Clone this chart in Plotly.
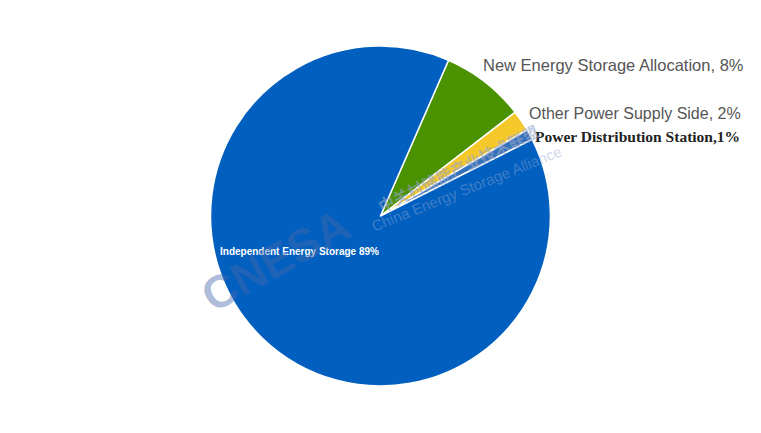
import plotly.graph_objects as go

# slice data, in drawing order (clockwise from the green slice)
labels = ["New Energy Storage Allocation", "Other Power Supply Side",
          "Power Distribution Station", "Independent Energy Storage"]
values = [8, 2, 1, 89]
label_text = ["New Energy Storage Allocation, 8%", "Other Power Supply Side, 2%",
              "<b>Power Distribution Station,1%</b>", "<b>Independent Energy Storage 89%</b>"]
colors = ["#4a9200", "#f5c82a", "#3572bb", "#005fbf"]

fig = go.Figure(
    data=[go.Pie(
        labels=labels,
        values=values,
        textinfo="none",
        hoverinfo="label+percent",
        sort=False,
        direction="clockwise",
        rotation=23.6,
        marker=dict(colors=colors, line=dict(color="white", width=1.5)),
        showlegend=False,
        domain=dict(x=[0.2661, 0.7128], y=[0.1272, 0.9122]),
    )]
)

# slice labels, placed where the original chart had them
label_pos = [(0.6222, 0.8685), (0.6822, 0.7555), (0.6902, 0.7025), (0.2762, 0.4365)]
label_fonts = [
    dict(family="Liberation Sans", size=16.5, color="#555555"),
    dict(family="Liberation Sans", size=16, color="#555555"),
    dict(family="Liberation Serif", size=15.5, color="#222222"),
    dict(family="Liberation Sans", size=10, color="white"),
]
for txt, (x, y), f in zip(label_text, label_pos, label_fonts):
    fig.add_annotation(text=txt, x=x, y=y, xref="paper", yref="paper",
                       xanchor="left", yanchor="middle", showarrow=False, font=f)

# faint CNESA watermark over the picture
fig.add_annotation(text="<b>CNESA</b>", x=0.352, y=0.418, xref="paper", yref="paper",
                   showarrow=False, textangle=-29,
                   font=dict(family="Liberation Sans", size=46, color="rgba(70,105,170,0.45)"))
fig.add_annotation(text="<b>中关村储能产业技术联盟</b>", x=0.591, y=0.6305, xref="paper", yref="paper",
                   showarrow=False, textangle=-26,
                   font=dict(family="Noto Sans CJK SC", size=16, color="rgba(150,165,200,0.6)"))
fig.add_annotation(text="China Energy Storage Alliance", x=0.603, y=0.582, xref="paper", yref="paper",
                   showarrow=False, textangle=-22,
                   font=dict(family="Liberation Sans", size=15, color="rgba(140,165,210,0.45)"))

fig.update_layout(
    width=761,
    height=433,
    margin=dict(l=0, r=0, t=0, b=0),
    paper_bgcolor="white",
    plot_bgcolor="white",
)

fig.write_html("out.html")
